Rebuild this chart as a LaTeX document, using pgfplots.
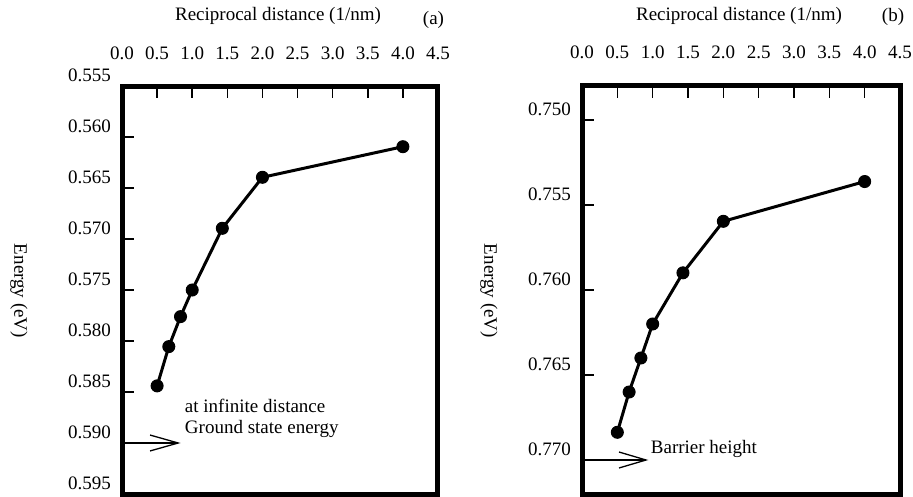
\documentclass[border=0pt]{standalone}
\usepackage{fontspec}
\setmainfont{Liberation Serif}
\usepackage{pgfplots}
\pgfplotsset{compat=1.18}
\pgfplotsset{
  myaxis/.style={
    scale only axis,
    anchor=south west,
    height=408pt,
    xmin=0, xmax=4.5,
    y dir=reverse,
    axis line style={line width=5pt},
    tick style={line width=1.6pt, black},
    major tick length=12pt,
    tick align=inside,
    xtick pos=upper, xticklabel pos=upper,
    ytick pos=left, yticklabel pos=left,
    xtick={0,0.5,1,1.5,2,2.5,3,3.5,4,4.5},
    /pgf/number format/assume math mode=true,
    xticklabel style={/pgf/number format/.cd, fixed, fixed zerofill, precision=1, /tikz/.cd,
      anchor=base, inner sep=0pt, yshift=27pt},
    yticklabel style={/pgf/number format/.cd, fixed, fixed zerofill, precision=3, /tikz/.cd,
      anchor=base east, inner sep=0pt, xshift=-11pt, yshift=4.5pt},
    clip=false,
  },
  dataplot/.style={black, line width=3pt, mark=*, mark size=6pt,
    mark options={fill=black, line width=1pt}},
}
\begin{document}
\fontsize{19}{22}\selectfont
\begin{tikzpicture}
\path[use as bounding box] (0pt,0pt) rectangle (913pt,497pt);
% Panel (a)
\begin{axis}[myaxis, at={(122pt,3pt)}, width=316pt,
  ymin=0.555, ymax=0.595,
  ytick={0.555,0.560,0.565,0.570,0.575,0.580,0.585,0.590,0.595}]
\addplot[dataplot] coordinates {
 (0.5,0.5844) (0.6667,0.58055) (0.8333,0.57761) (1.0,0.5750)
 (1.4286,0.56895) (2.0,0.56395) (4.0,0.56095)};
\draw[line width=1.3pt] (axis cs:0,0.590) -- (axis cs:0.80,0.590);
\draw[line width=1.3pt] (axis cs:0.40,0.58922) -- (axis cs:0.80,0.590) -- (axis cs:0.40,0.59078);
\node[anchor=base west, inner sep=0pt] at (axis cs:0.894,0.58705) {at infinite distance};
\node[anchor=base west, inner sep=0pt] at (axis cs:0.894,0.58911) {Ground state energy};
\end{axis}
% Panel (b)
\begin{axis}[myaxis, at={(582pt,3pt)}, width=318pt,
  ymin=0.748, ymax=0.772,
  ytick={0.750,0.755,0.760,0.765,0.770}]
\addplot[dataplot] coordinates {
 (0.5,0.76837) (0.6667,0.7660) (0.8333,0.7640) (1.0,0.7620)
 (1.4286,0.75899) (2.0,0.75596) (4.0,0.75362)};
\draw[line width=1.3pt] (axis cs:0,0.770) -- (axis cs:0.906,0.770);
\draw[line width=1.3pt] (axis cs:0.524,0.76953) -- (axis cs:0.906,0.770) -- (axis cs:0.524,0.77047);
\node[anchor=base west, inner sep=0pt] at (axis cs:0.972,0.76962) {Barrier height};
\end{axis}
% titles and labels
\node[anchor=base, inner sep=0pt] at (278pt,476.5pt) {Reciprocal distance (1/nm)};
\node[anchor=base, inner sep=0pt] at (433.5pt,472.5pt) {(a)};
\node[anchor=base, inner sep=0pt] at (739pt,476.5pt) {Reciprocal distance (1/nm)};
\node[anchor=base, inner sep=0pt] at (893pt,475.5pt) {(b)};
\node[rotate=-90, inner sep=0pt] at (19pt,206pt) {Energy (eV)};
\node[rotate=-90, inner sep=0pt] at (489pt,206pt) {Energy (eV)};
\end{tikzpicture}
\end{document}
